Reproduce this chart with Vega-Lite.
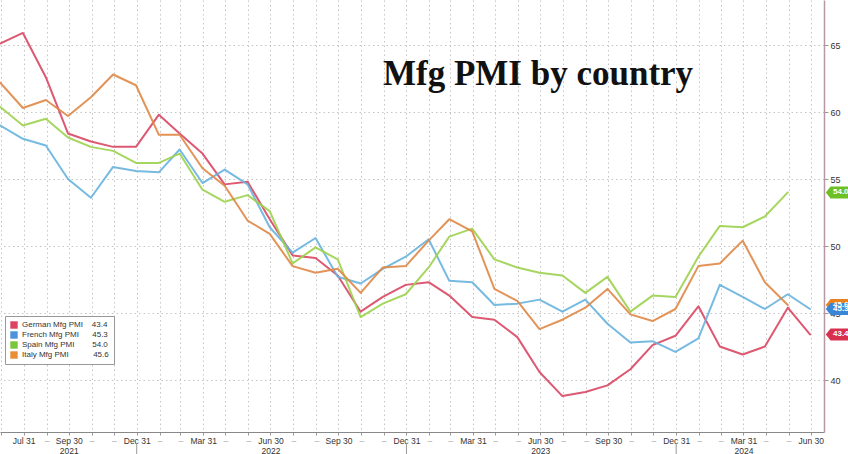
{
  "$schema": "https://vega.github.io/schema/vega-lite/v6.json",
  "width": 824,
  "height": 432,
  "autosize": {"type": "none"},
  "padding": {"left": 0, "top": 0, "right": 24, "bottom": 22},
  "background": "white",
  "config": {"view": {"stroke": null}, "font": "Liberation Sans"},
  "title": {
    "text": "Mfg PMI by country",
    "anchor": "start",
    "frame": "group",
    "font": "Liberation Serif",
    "fontSize": 35,
    "fontWeight": "bold",
    "color": "#111111",
    "dx": 383,
    "dy": 120,
    "offset": 0,
    "baseline": "alphabetic"
  },
  "data": {
    "format": {"parse": {"date": "date"}},
    "values": [
      {"date": "2021-06-30", "country": "German Mfg PMI", "value": 65.1},
      {"date": "2021-07-31", "country": "German Mfg PMI", "value": 65.9},
      {"date": "2021-08-31", "country": "German Mfg PMI", "value": 62.6},
      {"date": "2021-09-30", "country": "German Mfg PMI", "value": 58.4},
      {"date": "2021-10-31", "country": "German Mfg PMI", "value": 57.8},
      {"date": "2021-11-30", "country": "German Mfg PMI", "value": 57.4},
      {"date": "2021-12-31", "country": "German Mfg PMI", "value": 57.4},
      {"date": "2022-01-31", "country": "German Mfg PMI", "value": 59.8},
      {"date": "2022-02-28", "country": "German Mfg PMI", "value": 58.4},
      {"date": "2022-03-31", "country": "German Mfg PMI", "value": 56.9},
      {"date": "2022-04-30", "country": "German Mfg PMI", "value": 54.6},
      {"date": "2022-05-31", "country": "German Mfg PMI", "value": 54.8},
      {"date": "2022-06-30", "country": "German Mfg PMI", "value": 52.0},
      {"date": "2022-07-31", "country": "German Mfg PMI", "value": 49.3},
      {"date": "2022-08-31", "country": "German Mfg PMI", "value": 49.1},
      {"date": "2022-09-30", "country": "German Mfg PMI", "value": 47.8},
      {"date": "2022-10-31", "country": "German Mfg PMI", "value": 45.1},
      {"date": "2022-11-30", "country": "German Mfg PMI", "value": 46.2},
      {"date": "2022-12-31", "country": "German Mfg PMI", "value": 47.1},
      {"date": "2023-01-31", "country": "German Mfg PMI", "value": 47.3},
      {"date": "2023-02-28", "country": "German Mfg PMI", "value": 46.3},
      {"date": "2023-03-31", "country": "German Mfg PMI", "value": 44.7},
      {"date": "2023-04-30", "country": "German Mfg PMI", "value": 44.5},
      {"date": "2023-05-31", "country": "German Mfg PMI", "value": 43.2},
      {"date": "2023-06-30", "country": "German Mfg PMI", "value": 40.6},
      {"date": "2023-07-31", "country": "German Mfg PMI", "value": 38.8},
      {"date": "2023-08-31", "country": "German Mfg PMI", "value": 39.1},
      {"date": "2023-09-30", "country": "German Mfg PMI", "value": 39.6},
      {"date": "2023-10-31", "country": "German Mfg PMI", "value": 40.8},
      {"date": "2023-11-30", "country": "German Mfg PMI", "value": 42.6},
      {"date": "2023-12-31", "country": "German Mfg PMI", "value": 43.3},
      {"date": "2024-01-31", "country": "German Mfg PMI", "value": 45.5},
      {"date": "2024-02-29", "country": "German Mfg PMI", "value": 42.5},
      {"date": "2024-03-31", "country": "German Mfg PMI", "value": 41.9},
      {"date": "2024-04-30", "country": "German Mfg PMI", "value": 42.5},
      {"date": "2024-05-31", "country": "German Mfg PMI", "value": 45.4},
      {"date": "2024-06-30", "country": "German Mfg PMI", "value": 43.4},

      {"date": "2021-06-30", "country": "French Mfg PMI", "value": 59.0},
      {"date": "2021-07-31", "country": "French Mfg PMI", "value": 58.0},
      {"date": "2021-08-31", "country": "French Mfg PMI", "value": 57.5},
      {"date": "2021-09-30", "country": "French Mfg PMI", "value": 55.0},
      {"date": "2021-10-31", "country": "French Mfg PMI", "value": 53.6},
      {"date": "2021-11-30", "country": "French Mfg PMI", "value": 55.9},
      {"date": "2021-12-31", "country": "French Mfg PMI", "value": 55.6},
      {"date": "2022-01-31", "country": "French Mfg PMI", "value": 55.5},
      {"date": "2022-02-28", "country": "French Mfg PMI", "value": 57.2},
      {"date": "2022-03-31", "country": "French Mfg PMI", "value": 54.7},
      {"date": "2022-04-30", "country": "French Mfg PMI", "value": 55.7},
      {"date": "2022-05-31", "country": "French Mfg PMI", "value": 54.6},
      {"date": "2022-06-30", "country": "French Mfg PMI", "value": 51.4},
      {"date": "2022-07-31", "country": "French Mfg PMI", "value": 49.5},
      {"date": "2022-08-31", "country": "French Mfg PMI", "value": 50.6},
      {"date": "2022-09-30", "country": "French Mfg PMI", "value": 47.7},
      {"date": "2022-10-31", "country": "French Mfg PMI", "value": 47.2},
      {"date": "2022-11-30", "country": "French Mfg PMI", "value": 48.3},
      {"date": "2022-12-31", "country": "French Mfg PMI", "value": 49.2},
      {"date": "2023-01-31", "country": "French Mfg PMI", "value": 50.5},
      {"date": "2023-02-28", "country": "French Mfg PMI", "value": 47.4},
      {"date": "2023-03-31", "country": "French Mfg PMI", "value": 47.3},
      {"date": "2023-04-30", "country": "French Mfg PMI", "value": 45.6},
      {"date": "2023-05-31", "country": "French Mfg PMI", "value": 45.7},
      {"date": "2023-06-30", "country": "French Mfg PMI", "value": 46.0},
      {"date": "2023-07-31", "country": "French Mfg PMI", "value": 45.1},
      {"date": "2023-08-31", "country": "French Mfg PMI", "value": 46.0},
      {"date": "2023-09-30", "country": "French Mfg PMI", "value": 44.2},
      {"date": "2023-10-31", "country": "French Mfg PMI", "value": 42.8},
      {"date": "2023-11-30", "country": "French Mfg PMI", "value": 42.9},
      {"date": "2023-12-31", "country": "French Mfg PMI", "value": 42.1},
      {"date": "2024-01-31", "country": "French Mfg PMI", "value": 43.1},
      {"date": "2024-02-29", "country": "French Mfg PMI", "value": 47.1},
      {"date": "2024-03-31", "country": "French Mfg PMI", "value": 46.2},
      {"date": "2024-04-30", "country": "French Mfg PMI", "value": 45.3},
      {"date": "2024-05-31", "country": "French Mfg PMI", "value": 46.4},
      {"date": "2024-06-30", "country": "French Mfg PMI", "value": 45.3},

      {"date": "2021-06-30", "country": "Spain Mfg PMI", "value": 60.4},
      {"date": "2021-07-31", "country": "Spain Mfg PMI", "value": 59.0},
      {"date": "2021-08-31", "country": "Spain Mfg PMI", "value": 59.5},
      {"date": "2021-09-30", "country": "Spain Mfg PMI", "value": 58.1},
      {"date": "2021-10-31", "country": "Spain Mfg PMI", "value": 57.4},
      {"date": "2021-11-30", "country": "Spain Mfg PMI", "value": 57.1},
      {"date": "2021-12-31", "country": "Spain Mfg PMI", "value": 56.2},
      {"date": "2022-01-31", "country": "Spain Mfg PMI", "value": 56.2},
      {"date": "2022-02-28", "country": "Spain Mfg PMI", "value": 56.9},
      {"date": "2022-03-31", "country": "Spain Mfg PMI", "value": 54.2},
      {"date": "2022-04-30", "country": "Spain Mfg PMI", "value": 53.3},
      {"date": "2022-05-31", "country": "Spain Mfg PMI", "value": 53.8},
      {"date": "2022-06-30", "country": "Spain Mfg PMI", "value": 52.6},
      {"date": "2022-07-31", "country": "Spain Mfg PMI", "value": 48.7},
      {"date": "2022-08-31", "country": "Spain Mfg PMI", "value": 49.9},
      {"date": "2022-09-30", "country": "Spain Mfg PMI", "value": 49.0},
      {"date": "2022-10-31", "country": "Spain Mfg PMI", "value": 44.7},
      {"date": "2022-11-30", "country": "Spain Mfg PMI", "value": 45.7},
      {"date": "2022-12-31", "country": "Spain Mfg PMI", "value": 46.4},
      {"date": "2023-01-31", "country": "Spain Mfg PMI", "value": 48.4},
      {"date": "2023-02-28", "country": "Spain Mfg PMI", "value": 50.7},
      {"date": "2023-03-31", "country": "Spain Mfg PMI", "value": 51.3},
      {"date": "2023-04-30", "country": "Spain Mfg PMI", "value": 49.0},
      {"date": "2023-05-31", "country": "Spain Mfg PMI", "value": 48.4},
      {"date": "2023-06-30", "country": "Spain Mfg PMI", "value": 48.0},
      {"date": "2023-07-31", "country": "Spain Mfg PMI", "value": 47.8},
      {"date": "2023-08-31", "country": "Spain Mfg PMI", "value": 46.5},
      {"date": "2023-09-30", "country": "Spain Mfg PMI", "value": 47.7},
      {"date": "2023-10-31", "country": "Spain Mfg PMI", "value": 45.1},
      {"date": "2023-11-30", "country": "Spain Mfg PMI", "value": 46.3},
      {"date": "2023-12-31", "country": "Spain Mfg PMI", "value": 46.2},
      {"date": "2024-01-31", "country": "Spain Mfg PMI", "value": 49.2},
      {"date": "2024-02-29", "country": "Spain Mfg PMI", "value": 51.5},
      {"date": "2024-03-31", "country": "Spain Mfg PMI", "value": 51.4},
      {"date": "2024-04-30", "country": "Spain Mfg PMI", "value": 52.2},
      {"date": "2024-05-31", "country": "Spain Mfg PMI", "value": 54.0},

      {"date": "2021-06-30", "country": "Italy Mfg PMI", "value": 62.2},
      {"date": "2021-07-31", "country": "Italy Mfg PMI", "value": 60.3},
      {"date": "2021-08-31", "country": "Italy Mfg PMI", "value": 60.9},
      {"date": "2021-09-30", "country": "Italy Mfg PMI", "value": 59.7},
      {"date": "2021-10-31", "country": "Italy Mfg PMI", "value": 61.1},
      {"date": "2021-11-30", "country": "Italy Mfg PMI", "value": 62.8},
      {"date": "2021-12-31", "country": "Italy Mfg PMI", "value": 62.0},
      {"date": "2022-01-31", "country": "Italy Mfg PMI", "value": 58.3},
      {"date": "2022-02-28", "country": "Italy Mfg PMI", "value": 58.3},
      {"date": "2022-03-31", "country": "Italy Mfg PMI", "value": 55.8},
      {"date": "2022-04-30", "country": "Italy Mfg PMI", "value": 54.5},
      {"date": "2022-05-31", "country": "Italy Mfg PMI", "value": 51.9},
      {"date": "2022-06-30", "country": "Italy Mfg PMI", "value": 50.9},
      {"date": "2022-07-31", "country": "Italy Mfg PMI", "value": 48.5},
      {"date": "2022-08-31", "country": "Italy Mfg PMI", "value": 48.0},
      {"date": "2022-09-30", "country": "Italy Mfg PMI", "value": 48.3},
      {"date": "2022-10-31", "country": "Italy Mfg PMI", "value": 46.5},
      {"date": "2022-11-30", "country": "Italy Mfg PMI", "value": 48.4},
      {"date": "2022-12-31", "country": "Italy Mfg PMI", "value": 48.5},
      {"date": "2023-01-31", "country": "Italy Mfg PMI", "value": 50.4},
      {"date": "2023-02-28", "country": "Italy Mfg PMI", "value": 52.0},
      {"date": "2023-03-31", "country": "Italy Mfg PMI", "value": 51.1},
      {"date": "2023-04-30", "country": "Italy Mfg PMI", "value": 46.8},
      {"date": "2023-05-31", "country": "Italy Mfg PMI", "value": 45.9},
      {"date": "2023-06-30", "country": "Italy Mfg PMI", "value": 43.8},
      {"date": "2023-07-31", "country": "Italy Mfg PMI", "value": 44.5},
      {"date": "2023-08-31", "country": "Italy Mfg PMI", "value": 45.4},
      {"date": "2023-09-30", "country": "Italy Mfg PMI", "value": 46.8},
      {"date": "2023-10-31", "country": "Italy Mfg PMI", "value": 44.9},
      {"date": "2023-11-30", "country": "Italy Mfg PMI", "value": 44.4},
      {"date": "2023-12-31", "country": "Italy Mfg PMI", "value": 45.3},
      {"date": "2024-01-31", "country": "Italy Mfg PMI", "value": 48.5},
      {"date": "2024-02-29", "country": "Italy Mfg PMI", "value": 48.7},
      {"date": "2024-03-31", "country": "Italy Mfg PMI", "value": 50.4},
      {"date": "2024-04-30", "country": "Italy Mfg PMI", "value": 47.3},
      {"date": "2024-05-31", "country": "Italy Mfg PMI", "value": 45.6}
    ]
  },
  "layer": [
    {
      "mark": {"type": "line", "strokeWidth": 2, "strokeJoin": "round", "strokeCap": "round", "opacity": 0.9, "clip": true},
      "encoding": {
        "x": {
          "field": "date",
          "type": "temporal",
          "scale": {"type": "utc", "domain": [{"year": 2021, "month": 6, "date": 30, "utc": true}, {"year": 2024, "month": 7, "date": 19, "utc": true}]},
          "axis": {
            "title": null,
            "orient": "bottom",
            "tickCount": {"interval": "month", "step": 1},
            "labelExpr": "(utcmonth(datum.value)==6 && utcyear(datum.value)==2021) ? '' : (utcmonth(datum.value)==7 && utcyear(datum.value)==2021) ? 'Jul 31' : (utcmonth(datum.value)==9 && utcyear(datum.value)==2021) ? ['Sep 30','2021'] : utcmonth(datum.value)==9 ? 'Sep 30' : utcmonth(datum.value)==0 ? 'Dec 31' : (utcmonth(datum.value)==3 && utcyear(datum.value)==2024) ? ['Mar 31','2024'] : utcmonth(datum.value)==3 ? 'Mar 31' : (utcmonth(datum.value)==6 && utcyear(datum.value)<2024) ? ['Jun 30', '' + utcyear(datum.value)] : utcmonth(datum.value)==6 ? 'Jun 30' : '–'",
            "labelOverlap": false,
            "labelFlush": false,
            "labelFontSize": 8.5,
            "labelLineHeight": 10,
            "labelPadding": 1,
            "labelColor": {"condition": {"test": "indexof([1,2,4,5,7,8,10,11], utcmonth(datum.value)) >= 0 && !(utcmonth(datum.value)==7 && utcyear(datum.value)==2021)", "value": "#aaaaaa"}, "value": "#333333"},
            "domainColor": "#888888",
            "tickColor": "#999999",
            "tickSize": 3,
            "grid": true,
            "gridDash": [1.5, 3],
            "gridColor": "#c4c4c4"
          }
        },
        "y": {
          "field": "value",
          "type": "quantitative",
          "scale": {"domain": [36.12, 68.36], "nice": false, "zero": false},
          "axis": {
            "title": null,
            "orient": "right",
            "values": [40, 45, 50, 55, 60, 65],
            "labelFontSize": 9,
            "labelColor": "#333333",
            "labelPadding": 2,
            "tickSize": 4,
            "tickColor": "#999999",
            "domainColor": "#b797a4",
            "domainWidth": 1.5,
            "grid": true,
            "gridDash": [1.5, 3],
            "gridColor": "#c4c4c4"
          }
        },
        "color": {
          "field": "country",
          "type": "nominal",
          "scale": {
            "domain": ["German Mfg PMI", "French Mfg PMI", "Spain Mfg PMI", "Italy Mfg PMI"],
            "range": ["#d94662", "#68b2de", "#9cd24e", "#df8746"]
          },
          "legend": {
            "orient": "none",
            "legendX": 5,
            "legendY": 316,
            "title": null,
            "symbolType": "square",
            "symbolSize": 55,
            "symbolStrokeWidth": 0,
            "labelFontSize": 8,
            "labelColor": "#333333",
            "padding": 5,
            "rowPadding": 2,
            "strokeColor": "#999999",
            "fillColor": "white",
            "labelExpr": "datum.label == 'German Mfg PMI' ? 'German Mfg PMI\u00a0\u00a0\u00a0\u00a043.4' : datum.label == 'French Mfg PMI' ? 'French Mfg PMI\u00a0\u00a0\u00a0\u00a0\u00a0\u00a045.3' : datum.label == 'Spain Mfg PMI' ? 'Spain Mfg PMI\u00a0\u00a0\u00a0\u00a0\u00a0\u00a0\u00a0\u00a054.0' : 'Italy Mfg PMI\u00a0\u00a0\u00a0\u00a0\u00a0\u00a0\u00a0\u00a0\u00a0\u00a0\u00a045.6'",
            "encode": {"symbols": {"update": {"fill": {"scale": "color", "field": "value"}, "strokeWidth": {"value": 0}}}}
          }
        }
      }
    },
    {
      "data": {"values": [{"year_start": "2022-01-01"}, {"year_start": "2023-01-01"}, {"year_start": "2024-01-01"}]},
      "mark": {"type": "rule", "color": "#999999", "strokeWidth": 1, "clip": false},
      "encoding": {
        "x": {"field": "year_start", "type": "temporal"},
        "y": {"datum": 35.3},
        "y2": {"datum": 34.4}
      }
    },
    {
      "transform": [
        {"joinaggregate": [{"op": "max", "field": "date", "as": "last"}], "groupby": ["country"]},
        {"filter": "time(datum.date) == time(datum.last)"}
      ],
      "mark": {"type": "point", "shape": "M0.06,0 L0.22,-0.2 L1,-0.2 L1,0.2 L0.22,0.2 Z", "size": 3600, "filled": true, "opacity": 1, "strokeWidth": 0},
      "encoding": {
        "x": {"datum": {"year": 2024, "month": 7, "date": 19, "utc": true}, "type": "temporal"},
        "y": {"field": "value", "type": "quantitative"},
        "fill": {
          "field": "country",
          "type": "nominal",
          "scale": {
            "domain": ["German Mfg PMI", "French Mfg PMI", "Spain Mfg PMI", "Italy Mfg PMI"],
            "range": ["#d8304f", "#3a86d6", "#6cbf25", "#e8821f"]
          },
          "legend": null
        },
        "order": {"field": "value", "type": "quantitative", "sort": "descending"}
      }
    },
    {
      "transform": [
        {"joinaggregate": [{"op": "max", "field": "date", "as": "last"}], "groupby": ["country"]},
        {"filter": "time(datum.date) == time(datum.last)"}
      ],
      "mark": {"type": "text", "align": "left", "baseline": "middle", "dx": 9, "fontSize": 8, "fontWeight": "bold", "color": "white"},
      "encoding": {
        "x": {"datum": {"year": 2024, "month": 7, "date": 19, "utc": true}, "type": "temporal"},
        "y": {"field": "value", "type": "quantitative"},
        "text": {"field": "value", "type": "quantitative", "format": ".1f"},
        "order": {"field": "value", "type": "quantitative", "sort": "descending"}
      }
    }
  ]
}
